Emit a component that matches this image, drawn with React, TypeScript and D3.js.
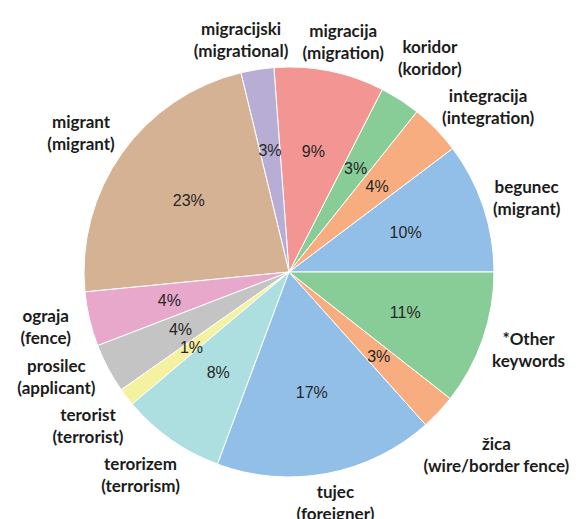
import React from "react";
import * as d3 from "d3";

const keywords = ["begunec", "integracija", "koridor", "migracija", "migracijski", "migrant", "ograja", "prosilec", "terorist", "terorizem", "tujec", "žica", "*Other"];
const translations = ["(migrant)", "(integration)", "(koridor)", "(migration)", "(migrational)", "(migrant)", "(fence)", "(applicant)", "(terrorist)", "(terrorism)", "(foreigner)", "(wire/border fence)", "keywords"];
const shares = [10.3, 4.0, 3.2, 8.7, 2.6, 22.8, 4.3, 3.9, 1.4, 8.2, 17.3, 2.8, 10.6];
const palette = ["#92bfe7", "#f7ad80", "#88cc98", "#f29593", "#b8aed5", "#d6b294", "#e7a8cc", "#c4c4c4", "#f4f1a0", "#aedfe0"];

const W = 579;
const H = 519;
const CX = 289;
const CY = 272;
const R = 205;
const LABEL_SIZE = 17;
const LABEL_FONT = `700 ${LABEL_SIZE}px Lato`;
const LINE_H = 22;

function measure(text: string): number {
  const c = document.createElement("canvas");
  const ctx = c.getContext("2d");
  if (!ctx) return text.length * 8;
  ctx.font = LABEL_FONT;
  return ctx.measureText(text).width;
}

type L = { x: number; y: number; w: number; h: number };

function boxCircleDist(b: L): number {
  const nx = Math.max(b.x - b.w / 2, Math.min(CX, b.x + b.w / 2));
  const ny = Math.max(b.y - b.h / 2, Math.min(CY, b.y + b.h / 2));
  return Math.hypot(nx - CX, ny - CY);
}

function layoutLabels(mids: number[]): L[] {
  const rx = 250;
  const ry = 235;
  const ls: L[] = mids.map((m, i) => ({
    x: CX + rx * Math.sin(m),
    y: CY - ry * Math.cos(m),
    w: Math.max(measure(keywords[i]), measure(translations[i])),
    h: LINE_H * 2 - 4,
  }));
  const padX = 14;
  const padY = 9;
  for (let it = 0; it < 400; it++) {
    for (let i = 0; i < ls.length; i++) {
      for (let j = i + 1; j < ls.length; j++) {
        const a = ls[i];
        const b = ls[j];
        const ox = Math.min(a.x + a.w / 2, b.x + b.w / 2) - Math.max(a.x - a.w / 2, b.x - b.w / 2) + padX;
        const oy = Math.min(a.y + a.h / 2, b.y + b.h / 2) - Math.max(a.y - a.h / 2, b.y - b.h / 2) + padY;
        if (ox > 0 && oy > 0) {
          if (ox < oy) {
            const s = a.x < b.x ? -1 : 1;
            a.x += (s * ox) / 4;
            b.x -= (s * ox) / 4;
          } else {
            const s = a.y < b.y ? -1 : 1;
            a.y += (s * oy) / 4;
            b.y -= (s * oy) / 4;
          }
        }
      }
    }
    for (const l of ls) {
      const d = boxCircleDist(l);
      if (d < R + 6) {
        const dx = l.x - CX;
        const dy = l.y - CY;
        const n = Math.hypot(dx, dy) || 1;
        const step = (R + 6 - d) / 2 + 0.2;
        l.x += (dx / n) * step;
        l.y += (dy / n) * step;
      }
      l.x = Math.max(l.w / 2 + 1, Math.min(W - l.w / 2 - 1, l.x));
      l.y = Math.max(l.h / 2 + 1, l.y);
    }
  }
  return ls;
}

export default function App() {
  const total = d3.sum(shares);
  const pie = d3
    .pie<number>()
    .sort(null)
    .value((d) => d)
    .startAngle(Math.PI / 2)
    .endAngle(Math.PI / 2 - 2 * Math.PI);
  const arcs = pie(shares);
  const arc = d3.arc<d3.PieArcDatum<number>>().innerRadius(0).outerRadius(R);
  const labels = layoutLabels(arcs.map((a) => (a.startAngle + a.endAngle) / 2));
  const pctArc = d3.arc<d3.PieArcDatum<number>>().innerRadius(R * 0.6).outerRadius(R * 0.6);

  return (
    <svg width={W} height={H} style={{ position: "absolute", left: 0, top: 0, background: "#fff" }}>
      <g transform={`translate(${CX},${CY})`}>
        {arcs.map((a, i) => (
          <path key={i} d={arc(a) || ""} fill={palette[i % palette.length]} stroke="#fff" strokeWidth={1} />
        ))}
        {arcs.map((a, i) => {
          const [px, py] = pctArc.centroid(a);
          return (
            <text
              key={"p" + i}
              x={px}
              y={py}
              textAnchor="middle"
              dominantBaseline="central"
              fontFamily="'Liberation Sans', Arial, sans-serif"
              fontSize={16}
              fill="#262626"
            >
              {`${Math.round((shares[i] / total) * 100)}%`}
            </text>
          );
        })}
      </g>
      {labels.map((l, i) => (
        <text
          key={"l" + i}
          textAnchor="middle"
          fontFamily="Lato, sans-serif"
          fontWeight={700}
          fontSize={LABEL_SIZE}
          fill="#1c1c1c"
        >
          <tspan x={l.x} y={l.y - LINE_H / 2} dominantBaseline="central">
            {keywords[i]}
          </tspan>
          <tspan x={l.x} y={l.y + LINE_H / 2} dominantBaseline="central">
            {translations[i]}
          </tspan>
        </text>
      ))}
    </svg>
  );
}
